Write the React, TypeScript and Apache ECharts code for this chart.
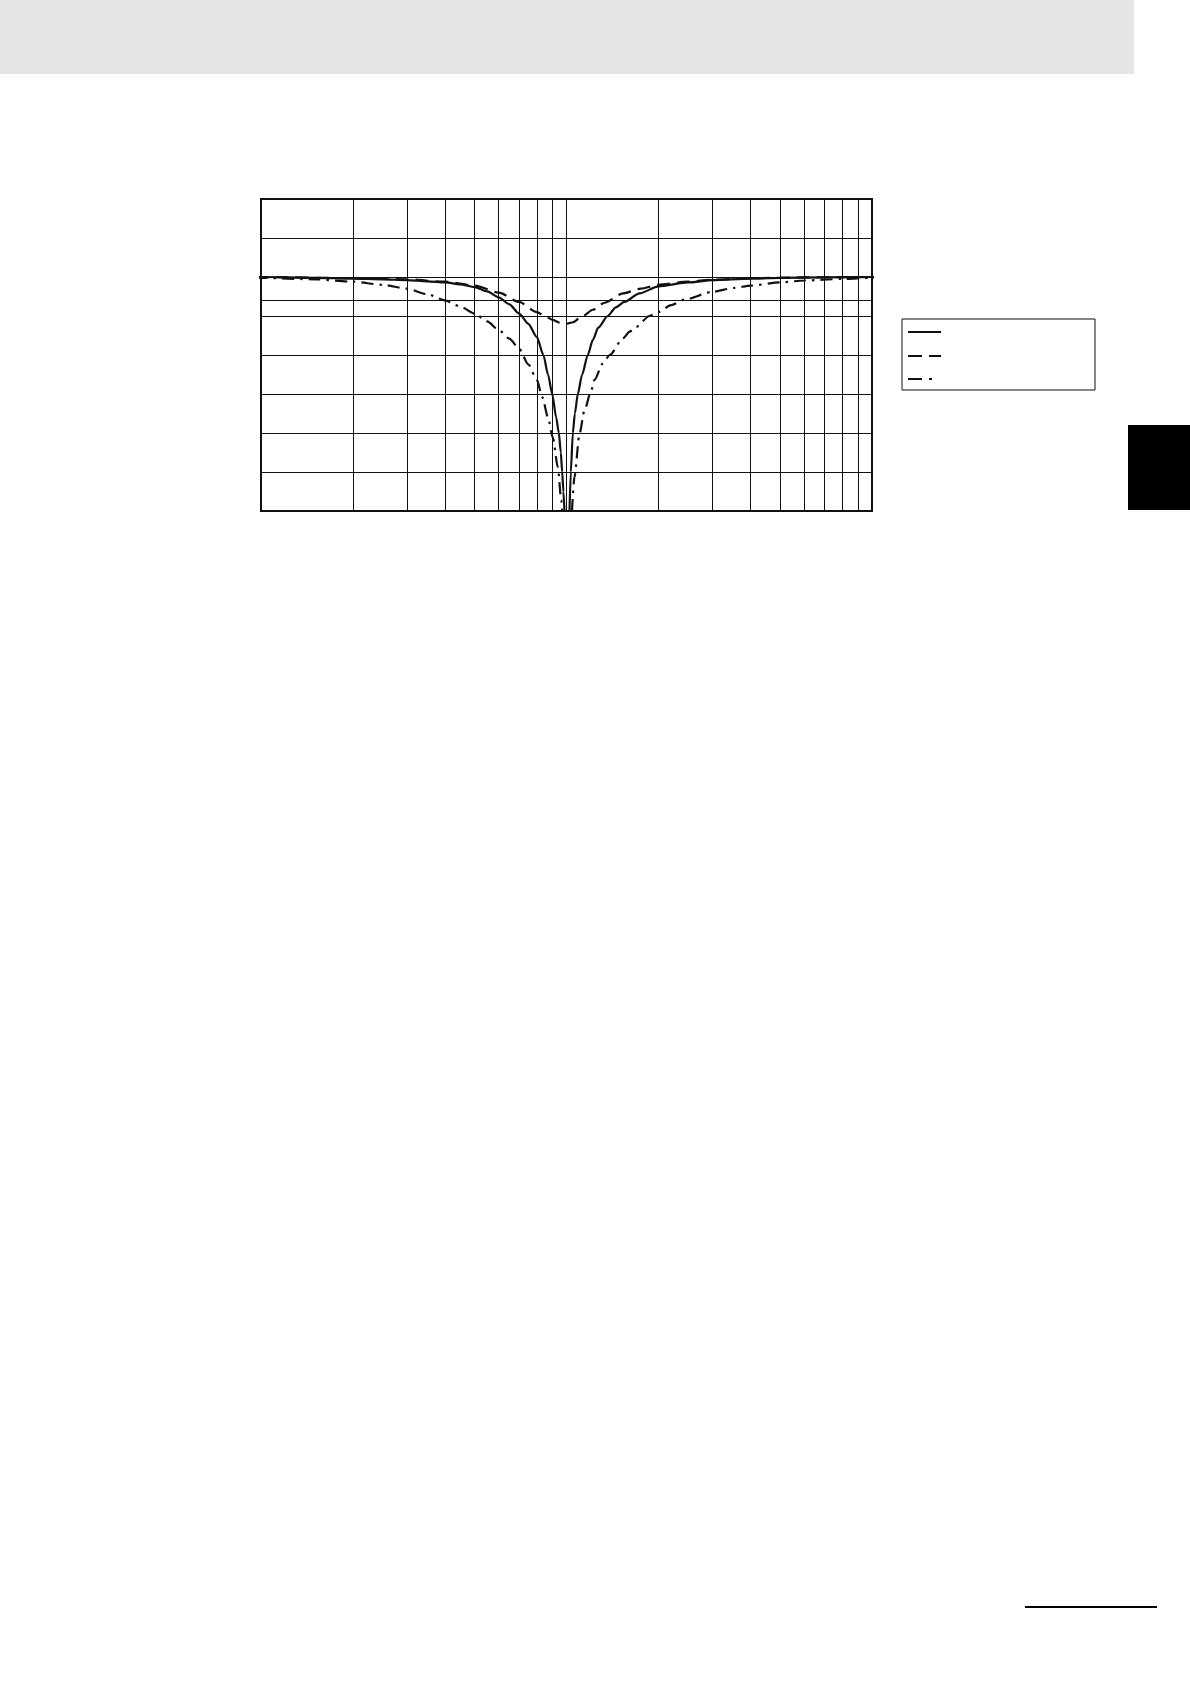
import { useEffect, useRef } from 'react'
import * as echarts from 'echarts'

// Axis ranges: frequency (Hz, log scale) and gain (dB)
const FREQ_MIN = 100
const FREQ_MAX = 10000
const GAIN_MIN = -30
const GAIN_MAX = 10
const GAIN_STEP = 5
const REF_GAIN = -3

// Vertical grid lines at the 2..9 multiples inside each decade
const minorFreqs = [200, 300, 400, 500, 600, 700, 800, 900, 2000, 3000, 4000, 5000, 6000, 7000, 8000, 9000]

// Solid curve: deep, narrow notch (null = below the plot floor)
const solidHz = [96, 100, 150, 200, 250, 300, 350, 400, 450, 500, 550, 600, 650, 700, 750, 800, 840, 870, 898, 925, 944, 958, 968, 977, 985, 1004, 1023, 1033, 1049, 1065, 1089, 1125, 1174, 1219, 1270, 1365, 1450, 1547, 1733, 2000, 2500, 3000, 4000, 5000, 7000, 10000, 10450]
const solidDb = [0, 0, -0.1, -0.2, -0.3, -0.4, -0.55, -0.7, -0.95, -1.3, -1.85, -2.6, -3.5, -4.7, -6.0, -7.7, -10, -12.5, -15, -18, -20, -22.5, -25, -27.5, -30, null, -30, -25, -20, -17.5, -15, -12.5, -10, -8.1, -6.5, -5, -3.9, -3.2, -2.1, -1.2, -0.7, -0.4, -0.2, -0.12, -0.05, 0, 0]

// Dashed curve: shallow notch
const dashedHz = [96, 100, 200, 300, 400, 500, 600, 700, 800, 850, 900, 950, 1000, 1050, 1103, 1132, 1219, 1333, 1531, 1750, 2000, 2500, 3000, 4000, 6000, 10000, 10450]
const dashedDb = [0, 0, -0.15, -0.3, -0.6, -1.1, -2.0, -3.2, -4.5, -5.0, -5.5, -5.85, -6.0, -5.8, -5.3, -5.0, -4.2, -3.3, -2.1, -1.5, -1.0, -0.6, -0.35, -0.15, -0.05, 0, 0]

// Dash-dot curve: deep, wide notch
const dashDotHz = [96, 100, 150, 200, 250, 300, 350, 400, 450, 500, 550, 600, 650, 700, 750, 800, 833, 870, 902, 937, 961, 968, 1005, 1042, 1062, 1103, 1145, 1204, 1234, 1314, 1385, 1528, 1610, 1689, 1867, 2000, 2200, 2435, 3000, 3545, 4000, 5000, 6000, 8000, 10000, 10450]
const dashDotDb = [-0.05, -0.1, -0.3, -0.6, -1.0, -1.5, -2.2, -3.0, -3.8, -4.7, -5.7, -6.8, -7.9, -9.2, -11.2, -13.2, -15.4, -18, -20.6, -24.4, -28.6, -30, null, -30, -25.6, -20.1, -17.1, -14.6, -13.2, -11.1, -10, -7.9, -7.0, -6.4, -5.0, -4.5, -3.6, -2.9, -1.9, -1.4, -1.1, -0.7, -0.45, -0.25, -0.1, -0.05]

const INK = '#111111'
const CURVE_WIDTH = 2.2
const DASH = [13, 7]
const DASH_DOT = [12, 6, 2.5, 6]

const toPairs = (hz: number[], db: (number | null)[]) =>
  hz.map((f, i) => [f, db[i] === null ? '-' : db[i]])

const NotchChart: React.FC = () => {
  const chartRef = useRef<HTMLDivElement | null>(null)

  useEffect(() => {
    if (!chartRef.current) return
    const chart = echarts.init(chartRef.current, null, { renderer: 'svg' })

    const lineBase = {
      type: 'line' as const,
      symbol: 'none',
      smooth: 0.25,
      smoothMonotone: 'x' as const,
      clip: false,
      silent: true,
    }

    // legend key: swatches only, no captions
    const legendX = 908
    const legendRows = [332, 356, 379]
    const swatch = (y: number, lineDash: number[] | null) => ({
      type: 'line',
      silent: true,
      shape: { x1: legendX, y1: y, x2: legendX + 33, y2: y },
      style: { stroke: INK, lineWidth: CURVE_WIDTH, lineDash },
    })

    const option: echarts.EChartsOption = {
      animation: false,
      grid: {
        left: 261,
        top: 199,
        width: 611,
        height: 312,
        show: true,
        borderColor: INK,
        borderWidth: 2,
        backgroundColor: 'transparent',
      },
      xAxis: {
        type: 'log',
        logBase: 10,
        min: FREQ_MIN,
        max: FREQ_MAX,
        axisLine: { show: false },
        axisTick: { show: false },
        axisLabel: { show: false },
        splitLine: { show: true, lineStyle: { color: INK, width: 1 } },
      },
      yAxis: {
        type: 'value',
        min: GAIN_MIN,
        max: GAIN_MAX,
        interval: GAIN_STEP,
        axisLine: { show: false },
        axisTick: { show: false },
        axisLabel: { show: false },
        splitLine: { show: true, lineStyle: { color: INK, width: 1 } },
      },
      graphic: [
        {
          type: 'rect',
          silent: true,
          shape: { x: 902, y: 319, width: 193, height: 71 },
          style: { fill: 'none', stroke: INK, lineWidth: 1 },
        },
        swatch(legendRows[0], null),
        swatch(legendRows[1], [14, 7]),
        swatch(legendRows[2], [14, 7, 3, 40]),
      ],
      series: [
        {
          ...lineBase,
          data: toPairs(solidHz, solidDb),
          lineStyle: { color: INK, width: CURVE_WIDTH, type: 'solid' },
          markLine: {
            silent: true,
            symbol: 'none',
            label: { show: false },
            lineStyle: { color: INK, width: 1, type: 'solid' },
            data: [
              ...minorFreqs.map(f => ({ xAxis: f })),
              { yAxis: REF_GAIN },
            ],
          },
        },
        {
          ...lineBase,
          data: toPairs(dashedHz, dashedDb),
          lineStyle: { color: INK, width: CURVE_WIDTH, type: DASH },
        },
        {
          ...lineBase,
          data: toPairs(dashDotHz, dashDotDb),
          lineStyle: { color: INK, width: CURVE_WIDTH, type: DASH_DOT },
        },
      ],
    }

    chart.setOption(option)
    return () => {
      chart.dispose()
    }
  }, [])

  return (
    <div
      ref={chartRef}
      style={{ position: 'absolute', left: 0, top: 0, width: 1190, height: 1684 }}
    />
  )
}

export default function App() {
  return (
    <div style={{ position: 'absolute', left: 0, top: 0, width: 1190, height: 1684, background: '#fff', overflow: 'hidden' }}>
      {/* page header band */}
      <div style={{ position: 'absolute', left: 0, top: 0, width: 1134, height: 74, background: '#e6e6e6' }} />
      {/* chapter tab */}
      <div style={{ position: 'absolute', left: 1128, top: 425, width: 62, height: 85, background: '#000' }} />
      {/* footer rule */}
      <div style={{ position: 'absolute', left: 1025, top: 1606, width: 132, height: 2, background: '#000' }} />
      <NotchChart />
    </div>
  )
}
